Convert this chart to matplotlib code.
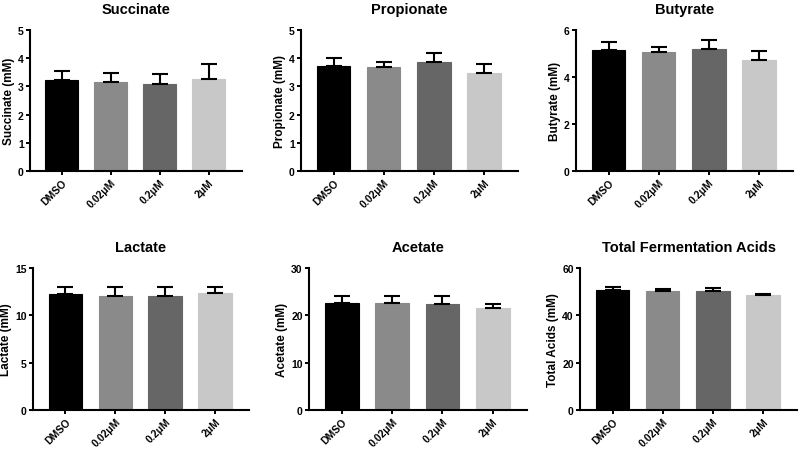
import matplotlib
matplotlib.use("Agg")
import matplotlib.pyplot as plt

plt.rcParams["font.family"] = ["Liberation Sans", "DejaVu Sans"]
plt.rcParams["font.weight"] = "bold"

groups = ["DMSO", "0.02\u03bcM", "0.2\u03bcM", "2\u03bcM"]
bar_colors = ["#000000", "#8a8a8a", "#666666", "#c8c8c8"]

succinate = [3.23, 3.15, 3.07, 3.28]
succinate_sem = [0.33, 0.33, 0.37, 0.53]
propionate = [3.73, 3.69, 3.85, 3.46]
propionate_sem = [0.26, 0.17, 0.35, 0.34]
butyrate = [5.14, 5.07, 5.18, 4.72]
butyrate_sem = [0.34, 0.21, 0.40, 0.39]
lactate = [12.28, 12.0, 12.0, 12.35]
lactate_sem = [0.74, 1.02, 1.0, 0.67]
acetate = [22.7, 22.6, 22.5, 21.6]
acetate_sem = [1.37, 1.4, 1.5, 0.9]
total = [50.7, 50.1, 50.4, 48.7]
total_sem = [1.3, 1.0, 1.0, 0.4]

panels = [
    ("Succinate", "Succinate (mM)", succinate, succinate_sem, [0, 1, 2, 3, 4, 5]),
    ("Propionate", "Propionate (mM)", propionate, propionate_sem, [0, 1, 2, 3, 4, 5]),
    ("Butyrate", "Butyrate (mM)", butyrate, butyrate_sem, [0, 2, 4, 6]),
    ("Lactate", "Lactate (mM)", lactate, lactate_sem, [0, 5, 10, 15]),
    ("Acetate", "Acetate (mM)", acetate, acetate_sem, [0, 10, 20, 30]),
    ("Total Fermentation Acids", "Total Acids (mM)", total, total_sem, [0, 20, 40, 60]),
]

W, H = 800, 452
# axes boxes in pixels: left, right, top, bottom
boxes = [
    (30, 242, 31, 172), (301, 518, 31, 172), (576, 793, 31, 172),
    (33, 249, 269, 411), (309, 527, 269, 411), (580, 797, 269, 411),
]

fig = plt.figure(figsize=(8, 4.52), dpi=100)
for (title, ylabel, vals, sem, ticks), (l, r, t, b) in zip(panels, boxes):
    ax = fig.add_axes([l / W, 1 - b / H, (r - l) / W, (b - t) / H])
    x = range(len(groups))
    ax.bar(x, vals, width=0.67, color=bar_colors, edgecolor=bar_colors, linewidth=0.8)
    ax.errorbar(x, vals, yerr=[[0] * len(sem), sem], fmt="none", ecolor="black",
                elinewidth=1.5, capsize=6, capthick=1.5)
    ax.set_xlim(-0.65, 3.68)
    ax.set_ylim(0, ticks[-1])
    ax.set_yticks(ticks)
    ax.set_xticks(list(x))
    ax.set_xticklabels(groups, rotation=45, ha="right", rotation_mode="anchor",
                       fontsize=7.5, fontweight="bold")
    ax.tick_params(axis="y", labelsize=7.5, width=1.4, length=3, pad=1.5)
    ax.tick_params(axis="x", width=1.4, length=3, pad=1.5)
    for lab in ax.get_yticklabels():
        lab.set_fontweight("bold")
    for side in ("top", "right"):
        ax.spines[side].set_visible(False)
    for side in ("left", "bottom"):
        ax.spines[side].set_linewidth(1.5)
    ax.set_ylabel(ylabel, fontsize=8.5, fontweight="bold", labelpad=2)
    ax.set_title(title, fontsize=10.5, fontweight="bold", pad=12)

fig.savefig("out.png", dpi=100)
